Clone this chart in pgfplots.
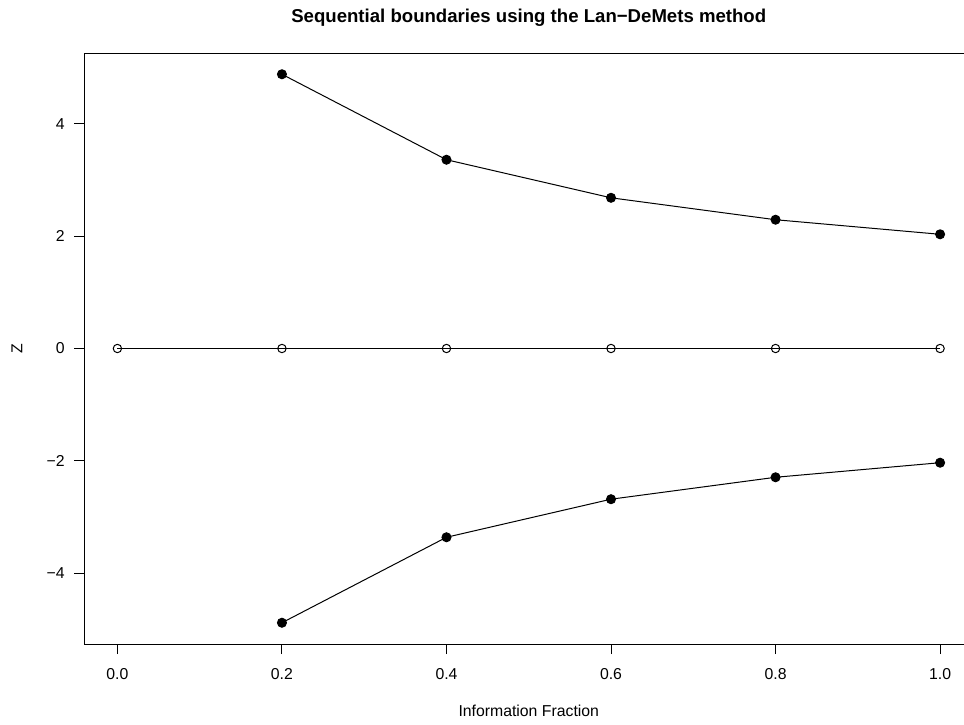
\documentclass[border=0pt]{standalone}
\usepackage{fontspec}
\setmainfont{Liberation Sans}
\usepackage{pgfplots}
\pgfplotsset{compat=1.18}
\begin{document}
\begin{tikzpicture}
\begin{axis}[
  name=ax,
  at={(0,0)}, anchor=south west,
  scale only axis,
  width=444.25pt, height=295.5pt,
  xmin=-0.04, xmax=1.04,
  ymin=-5.255, ymax=5.255,
  axis line style={line width=0.5pt},
  tick style={line width=0.5pt, black},
  tick align=outside,
  major tick length=5pt,
  xtick={0,0.2,0.4,0.6,0.8,1.0},
  xticklabels={0.0,0.2,0.4,0.6,0.8,1.0},
  ytick={-4,-2,0,2,4},
  yticklabels={−4,−2,0,2,4},
  xtick pos=bottom, ytick pos=left,
  tick label style={font=\fontsize{7.9}{9}\selectfont, inner sep=0pt},
  xticklabel style={anchor=base, yshift=-12.5pt},
  yticklabel style={anchor=east, xshift=-4.75pt},
  title={Sequential boundaries using the Lan−DeMets method},
  title style={at={(axis description cs:0.5,1.0321)}, anchor=base, inner sep=0pt, font=\bfseries\fontsize{9.3}{11}\selectfont},
  xlabel={Information Fraction},
  xlabel style={at={(axis description cs:0.5,-0.1235)}, anchor=base, inner sep=0pt, font=\fontsize{7.9}{9}\selectfont},
  ylabel={Z},
  ylabel style={at={(axis description cs:-0.076,0.5)}, anchor=center, inner sep=0pt, font=\fontsize{7.9}{9}\selectfont},
  clip=false,
]
\addplot[black, line width=0.5pt, mark=*, mark size=2.25pt, mark options={solid, fill=black}]
  coordinates {(0.2,4.877) (0.4,3.357) (0.6,2.680) (0.8,2.290) (1.0,2.031)};
\addplot[black, line width=0.5pt, mark=*, mark size=2.25pt, mark options={solid, fill=black}]
  coordinates {(0.2,-4.877) (0.4,-3.357) (0.6,-2.680) (0.8,-2.290) (1.0,-2.031)};
\addplot[black, line width=0.5pt, mark=o, mark size=2.1pt, mark options={solid, line width=0.5pt}]
  coordinates {(0,0) (0.2,0) (0.4,0) (0.6,0) (0.8,0) (1.0,0)};
\end{axis}
\pgfresetboundingbox
\useasboundingbox (-42.25pt,-40pt) rectangle (439.75pt,322pt);
\end{tikzpicture}
\end{document}
